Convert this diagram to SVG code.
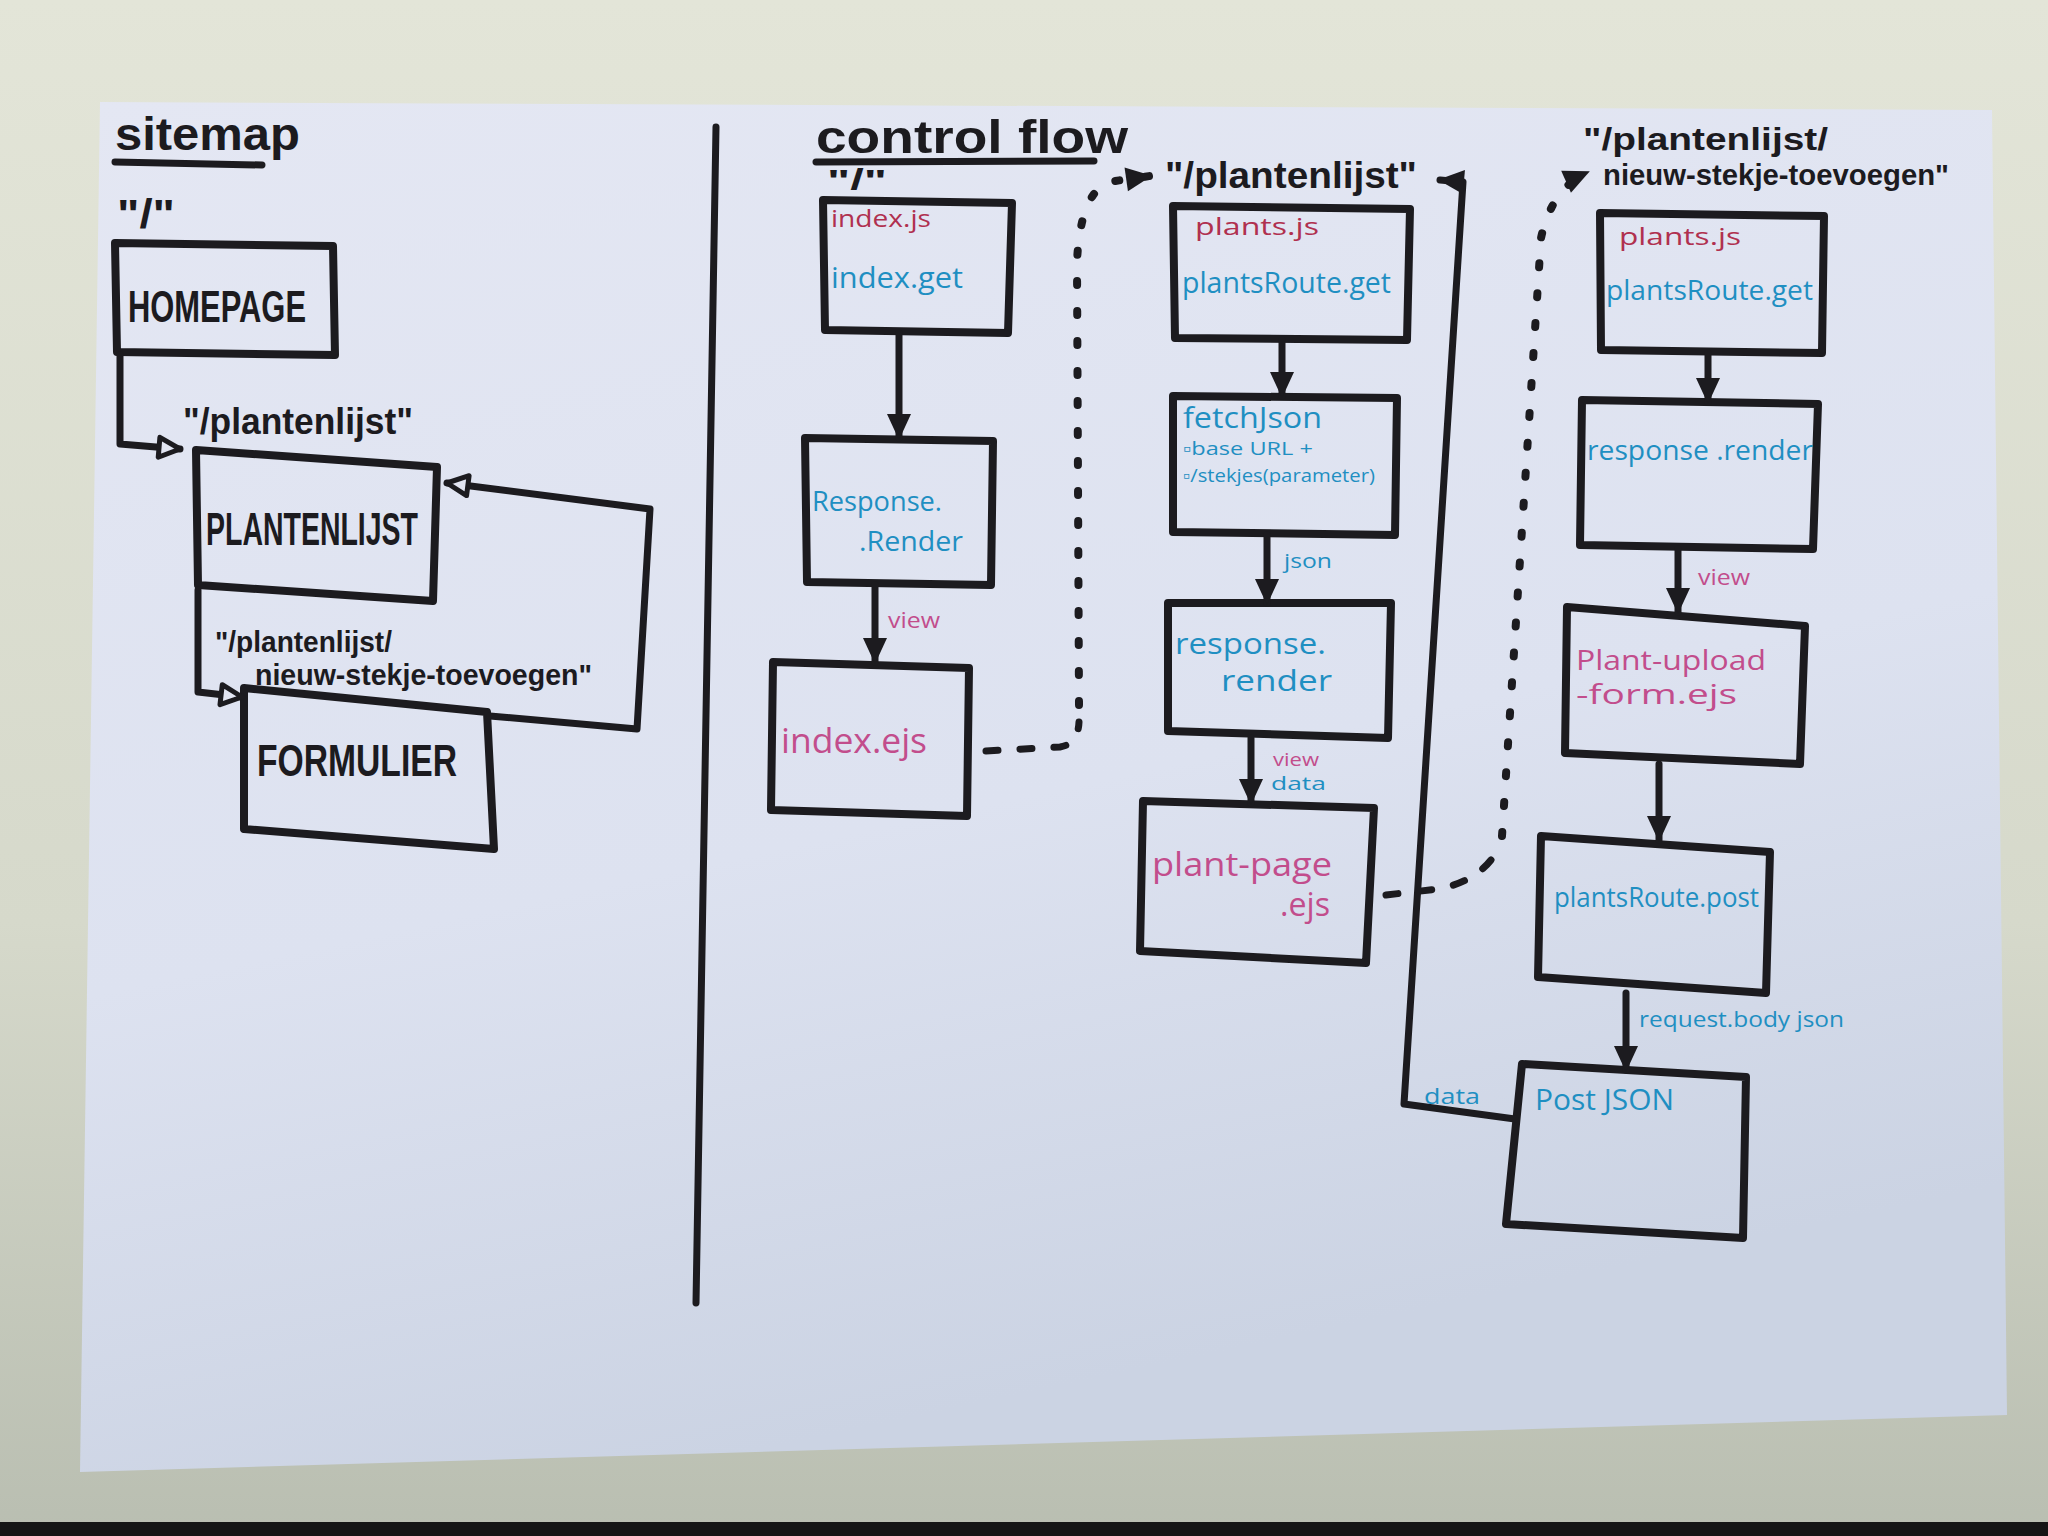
<svg xmlns="http://www.w3.org/2000/svg" width="2048" height="1536" viewBox="0 0 2048 1536">
<defs>
<linearGradient id="bg" x1="0" y1="0" x2="0" y2="1">
<stop offset="0" stop-color="#e3e5d8"/>
<stop offset="0.6" stop-color="#d6d9cb"/>
<stop offset="1" stop-color="#b9beb1"/>
</linearGradient>
<linearGradient id="paper" x1="0" y1="0" x2="0.3" y2="1">
<stop offset="0" stop-color="#e4e7f3"/>
<stop offset="0.6" stop-color="#dde2f0"/>
<stop offset="1" stop-color="#cbd3e3"/>
</linearGradient>
<marker id="filled" viewBox="0 0 30 30" markerUnits="userSpaceOnUse" markerWidth="30" markerHeight="30" refX="26" refY="15" orient="auto">
<path d="M2 3 L28 15 L2 27 Z" fill="#1c1b1f"/>
</marker>
<marker id="hollow" viewBox="0 0 30 30" markerUnits="userSpaceOnUse" markerWidth="30" markerHeight="30" refX="26" refY="15" orient="auto">
<path d="M5 5 L26 15 L5 25 Z" fill="#e2e5f2" stroke="#1c1b1f" stroke-width="5" stroke-linejoin="round"/>
</marker>
</defs>
<style>
.box{fill:none;stroke:#1c1b1f;stroke-width:8;stroke-linejoin:round}
.ln{fill:none;stroke:#1c1b1f;stroke-width:7;stroke-linecap:round;stroke-linejoin:round}
.dot{fill:none;stroke:#1c1b1f;stroke-width:8;stroke-linecap:round;stroke-dasharray:4 26}
.dash{fill:none;stroke:#1c1b1f;stroke-width:7;stroke-linecap:round;stroke-dasharray:12 22}
.hd{font-family:"Liberation Sans",Arial,sans-serif;font-weight:bold;fill:#1c1b1f}
.bl{font-family:"Open Sans","Liberation Sans",sans-serif;fill:#1f8fc2}
.pk{font-family:"Open Sans","Liberation Sans",sans-serif;fill:#c24d8c}
.mr{font-family:"Open Sans","Liberation Sans",sans-serif;fill:#b0304f}
</style>
<rect x="0" y="0" width="2048" height="1536" fill="url(#bg)"/>
<rect x="0" y="1522" width="2048" height="14" fill="#151515"/>
<polygon points="100,102 1992,110 2007,1415 80,1472" fill="url(#paper)"/>

<!-- headings -->
<g id="title-sitemap">
<text class="hd" x="115" y="150" font-size="46" textLength="185" lengthAdjust="spacingAndGlyphs">sitemap</text>
<path class="ln" d="M115 162 L262 165" stroke-width="7"/>
</g>
<g id="title-controlflow">
<text class="hd" x="816" y="153" font-size="46" textLength="312" lengthAdjust="spacingAndGlyphs">control flow</text>
<path class="ln" d="M816 162 L1094 161" stroke-width="5"/>
</g>
<line x1="716" y1="127" x2="696" y2="1303" class="ln" stroke-width="6"/>

<!-- sitemap nodes -->
<g id="homepage">
<text class="hd" x="117" y="228" font-size="40" textLength="58" lengthAdjust="spacingAndGlyphs">"/"</text>
<polygon class="box" points="115,243 333,246 335,355 117,352"/>
<text class="hd" x="128" y="322" font-size="44" textLength="178" lengthAdjust="spacingAndGlyphs">HOMEPAGE</text>
</g>
<g id="plantenlijst">
<text class="hd" x="183" y="434" font-size="36" textLength="230" lengthAdjust="spacingAndGlyphs">"/plantenlijst"</text>
<polygon class="box" points="196,450 437,467 433,601 198,585"/>
<text class="hd" x="206" y="545" font-size="46" textLength="212" lengthAdjust="spacingAndGlyphs">PLANTENLIJST</text>
</g>
<g id="formulier">
<text class="hd" x="215" y="652" font-size="30" textLength="177" lengthAdjust="spacingAndGlyphs">"/plantenlijst/</text>
<text class="hd" x="255" y="685" font-size="30" textLength="337" lengthAdjust="spacingAndGlyphs">nieuw-stekje-toevoegen"</text>
<polygon class="box" points="244,688 487,712 494,849 244,829"/>
<text class="hd" x="257" y="776" font-size="44" textLength="200" lengthAdjust="spacingAndGlyphs">FORMULIER</text>
</g>

<!-- control flow: column 1 -->
<g id="index-js">
<text class="hd" x="827" y="190" font-size="30" textLength="60" lengthAdjust="spacingAndGlyphs">"/"</text>
<polygon class="box" points="823,200 1012,203 1008,333 825,330"/>
<text class="mr" x="831" y="227" font-size="24" textLength="100" lengthAdjust="spacingAndGlyphs">index.js</text>
<text class="bl" x="831" y="288" font-size="30" textLength="132" lengthAdjust="spacingAndGlyphs">index.get</text>
</g>
<g id="response-render-1">
<polygon class="box" points="805,438 993,441 991,585 807,582"/>
<text class="bl" x="812" y="511" font-size="28" textLength="130" lengthAdjust="spacingAndGlyphs">Response.</text>
<text class="bl" x="859" y="551" font-size="28" textLength="104" lengthAdjust="spacingAndGlyphs">.Render</text>
</g>
<g id="index-ejs">
<polygon class="box" points="773,662 969,668 967,816 771,810"/>
<text class="pk" x="781" y="753" font-size="34" textLength="146" lengthAdjust="spacingAndGlyphs">index.ejs</text>
</g>

<!-- column 2 -->
<g id="plants-js-1">
<text class="hd" x="1165" y="188" font-size="36" textLength="252" lengthAdjust="spacingAndGlyphs">"/plantenlijst"</text>
<polygon class="box" points="1173,206 1410,209 1407,340 1175,338"/>
<text class="mr" x="1195" y="235" font-size="24" textLength="124" lengthAdjust="spacingAndGlyphs">plants.js</text>
<text class="bl" x="1182" y="293" font-size="30" textLength="209" lengthAdjust="spacingAndGlyphs">plantsRoute.get</text>
</g>
<g id="fetchjson">
<polygon class="box" points="1173,396 1397,398 1395,535 1173,532"/>
<text class="bl" x="1183" y="428" font-size="30" textLength="139" lengthAdjust="spacingAndGlyphs">fetchJson</text>
<text class="bl" x="1183" y="455" font-size="19" textLength="130" lengthAdjust="spacingAndGlyphs">▫base URL +</text>
<text class="bl" x="1183" y="482" font-size="19" textLength="192" lengthAdjust="spacingAndGlyphs">▫/stekjes(parameter)</text>
</g>
<g id="response-render-2">
<polygon class="box" points="1168,603 1391,603 1388,738 1168,731"/>
<text class="bl" x="1175" y="654" font-size="30" textLength="151" lengthAdjust="spacingAndGlyphs">response.</text>
<text class="bl" x="1221" y="691" font-size="30" textLength="111" lengthAdjust="spacingAndGlyphs">render</text>
</g>
<g id="plant-page-ejs">
<polygon class="box" points="1143,801 1374,808 1366,963 1140,951"/>
<text class="pk" x="1152" y="876" font-size="32" textLength="180" lengthAdjust="spacingAndGlyphs">plant-page</text>
<text class="pk" x="1280" y="916" font-size="32" textLength="50" lengthAdjust="spacingAndGlyphs">.ejs</text>
</g>

<!-- column 3 -->
<g id="plants-js-2">
<text class="hd" x="1583" y="150" font-size="32" textLength="245" lengthAdjust="spacingAndGlyphs">"/plantenlijst/</text>
<text class="hd" x="1603" y="185" font-size="30" textLength="346" lengthAdjust="spacingAndGlyphs">nieuw-stekje-toevoegen"</text>
<polygon class="box" points="1600,213 1824,216 1822,353 1601,350"/>
<text class="mr" x="1619" y="245" font-size="24" textLength="122" lengthAdjust="spacingAndGlyphs">plants.js</text>
<text class="bl" x="1606" y="300" font-size="28" textLength="207" lengthAdjust="spacingAndGlyphs">plantsRoute.get</text>
</g>
<g id="response-render-3">
<polygon class="box" points="1582,400 1818,404 1813,549 1580,545"/>
<text class="bl" x="1587" y="460" font-size="28" textLength="226" lengthAdjust="spacingAndGlyphs">response .render</text>
</g>
<g id="plant-upload-form">
<polygon class="box" points="1567,607 1805,626 1800,764 1565,753"/>
<text class="pk" x="1576" y="670" font-size="28" textLength="190" lengthAdjust="spacingAndGlyphs">Plant-upload</text>
<text class="pk" x="1576" y="704" font-size="28" textLength="161" lengthAdjust="spacingAndGlyphs">-form.ejs</text>
</g>
<g id="plantsroute-post">
<polygon class="box" points="1541,836 1770,852 1766,993 1538,977"/>
<text class="bl" x="1554" y="907" font-size="28" textLength="205" lengthAdjust="spacingAndGlyphs">plantsRoute.post</text>
</g>
<g id="post-json">
<polygon class="box" points="1522,1064 1746,1077 1743,1238 1506,1224"/>
<text class="bl" x="1535" y="1110" font-size="30" textLength="139" lengthAdjust="spacingAndGlyphs">Post JSON</text>
</g>

<!-- connectors -->
<g id="connectors">
<path class="ln" d="M120 355 L120 444 L180 449" marker-end="url(#hollow)"/>
<path class="ln" d="M490 716 L637 729 L650 509 L447 483" marker-end="url(#hollow)"/>
<path class="ln" d="M198 590 L198 692 L242 697" marker-end="url(#hollow)"/>

<path class="ln" d="M899 333 L899 438" marker-end="url(#filled)"/>
<path class="ln" d="M875 585 L875 662" marker-end="url(#filled)"/>
<text class="pk" x="888" y="628" font-size="22" textLength="52" lengthAdjust="spacingAndGlyphs">view</text>

<path class="dash" d="M986 751 L1060 747 Q1078 744 1079 722"/>
<path class="dot" d="M1079 705 L1077 262 Q1080 195 1108 182 L1150 176" marker-end="url(#filled)"/>

<path class="ln" d="M1282 340 L1282 396" marker-end="url(#filled)"/>
<path class="ln" d="M1267 535 L1267 603" marker-end="url(#filled)"/>
<text class="bl" x="1284" y="568" font-size="20" textLength="48" lengthAdjust="spacingAndGlyphs">json</text>
<path class="ln" d="M1251 738 L1251 803" marker-end="url(#filled)"/>
<text class="pk" x="1273" y="766" font-size="18" textLength="46" lengthAdjust="spacingAndGlyphs">view</text>
<text class="bl" x="1271" y="790" font-size="18" textLength="55" lengthAdjust="spacingAndGlyphs">data</text>

<path class="dash" d="M1386 895 L1438 889 Q1476 882 1494 856"/>
<path class="dot" d="M1502 836 L1541 238 Q1552 188 1588 172" marker-end="url(#filled)"/>

<path class="ln" d="M1515 1119 L1404 1104 L1463 182 L1440 180" marker-end="url(#filled)"/>
<text class="bl" x="1424" y="1104" font-size="22" textLength="56" lengthAdjust="spacingAndGlyphs">data</text>

<path class="ln" d="M1708 353 L1708 402" marker-end="url(#filled)"/>
<path class="ln" d="M1678 549 L1678 612" marker-end="url(#filled)"/>
<text class="pk" x="1698" y="585" font-size="22" textLength="52" lengthAdjust="spacingAndGlyphs">view</text>
<path class="ln" d="M1659 764 L1659 840" marker-end="url(#filled)"/>
<path class="ln" d="M1626 993 L1626 1070" marker-end="url(#filled)"/>
<text class="bl" x="1639" y="1027" font-size="22" textLength="205" lengthAdjust="spacingAndGlyphs">request.body json</text>
</g>
</svg>
